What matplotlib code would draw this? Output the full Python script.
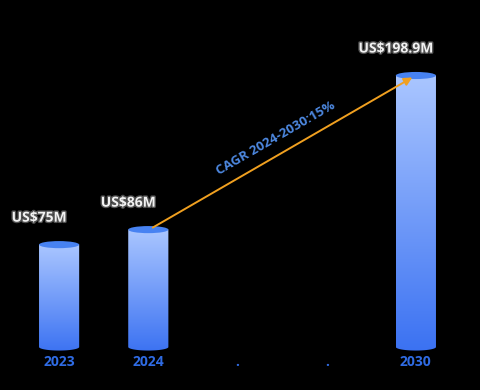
import matplotlib

matplotlib.use("Agg")
import matplotlib.pyplot as plt
import numpy as np
import matplotlib.patheffects as pe
from matplotlib.colors import LinearSegmentedColormap
from matplotlib.patches import Ellipse, PathPatch
from matplotlib.path import Path


categories = ["2023", "2024", ".", ".", "2030"]
values = [75, 86, None, None, 198.9]
value_labels = ["US$75M", "US$86M", None, None, "US$198.9M"]
cagr_text = "CAGR 2024-2030:15%"

BAR_W = 0.45
CAP_H = 5.2
PX_PER_UNIT = 1.365
Y_MIN, Y_MAX = -6, 240
TOP_COLOR = "#aac6ff"
BOTTOM_COLOR = "#3a71f2"
CAP_COLOR = "#4782f2"
TICK_COLOR = "#2f6be3"
CAGR_COLOR = "#4d88e0"
ARROW_COLOR = "#f0a020"
FONT = ["Open Sans", "DejaVu Sans"]

cmap = LinearSegmentedColormap.from_list("bar", [BOTTOM_COLOR, TOP_COLOR])

fig = plt.figure(figsize=(4.8, 3.9), dpi=100)
fig.patch.set_facecolor("black")
bottom_px = 43 + Y_MIN * PX_PER_UNIT
height_px = (Y_MAX - Y_MIN) * PX_PER_UNIT
ax = fig.add_axes([14.5 / 480, bottom_px / 390, 446 / 480, height_px / 390])
ax.set_facecolor("black")

for i, v in enumerate(values):
    if v is None:
        continue
    x0, x1 = i - BAR_W / 2, i + BAR_W / 2
    # body: rectangle with rounded (half-ellipse) bottom
    t = np.linspace(np.pi, 2 * np.pi, 40)
    bx = i + BAR_W / 2 * np.cos(t)
    by = CAP_H / 2 * np.sin(t)
    verts = [(x0, v)] + list(zip(bx, by)) + [(x1, v), (x0, v)]
    clip = PathPatch(Path(verts), facecolor="none", edgecolor="none")
    ax.add_patch(clip)
    grad = np.linspace(0, 1, 256).reshape(-1, 1)
    im = ax.imshow(grad, cmap=cmap, origin="lower", aspect="auto",
                   extent=[x0, x1, -CAP_H, v], zorder=2)
    im.set_clip_path(clip)
    ax.add_patch(Ellipse((i, v), BAR_W, CAP_H, facecolor=CAP_COLOR,
                         edgecolor="none", zorder=3))
    ax.annotate(value_labels[i], (i, v), xytext=(-14.4, 19.4),
                textcoords="offset points", ha="center", va="center",
                fontsize=10, fontweight="bold", color="#f2f2f2", family=FONT,
                path_effects=[pe.withStroke(linewidth=2, foreground="#505050")])

ax.set_xlim(-0.5, len(categories) - 0.5)
ax.set_ylim(Y_MIN, Y_MAX)

# CAGR arrow from 2024 to 2030
ax.annotate("", xy=(3.96, 197.5), xytext=(1.05, 87.5),
            arrowprops=dict(arrowstyle="-|>", color=ARROW_COLOR, lw=1.4,
                            mutation_scale=12, shrinkA=0, shrinkB=0),
            zorder=4)
ax.text(2.43, 153, cagr_text, rotation=30, ha="center", va="center",
        fontsize=9.5, fontweight="bold", color=CAGR_COLOR, family=FONT,
        rotation_mode="anchor")

ax.set_xticks(range(len(categories)))
ax.set_xticklabels(categories, fontsize=10, fontweight="bold",
                   color=TICK_COLOR, family=FONT)
ax.tick_params(axis="x", length=0, pad=0)
ax.set_yticks([])
for side in ax.spines.values():
    side.set_visible(False)

fig.savefig("out.png", dpi=100, facecolor="black")
